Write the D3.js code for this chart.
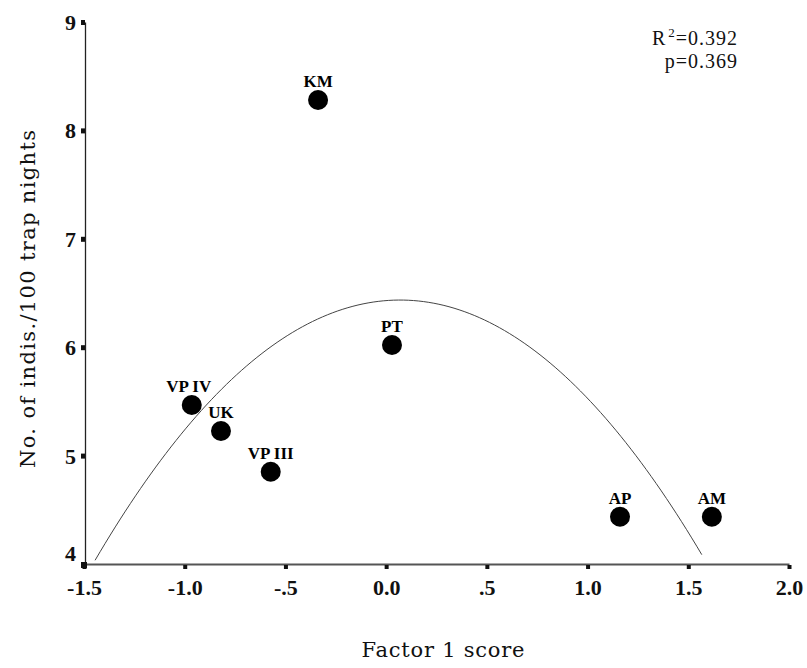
<!DOCTYPE html>
<html>
<head>
<meta charset="utf-8">
<script src="https://cdn.jsdelivr.net/npm/d3@7/dist/d3.min.js"></script>
<style>
  html, body { margin: 0; padding: 0; background: #fff; }
  svg { display: block; }
</style>
</head>
<body>
<svg id="chart" width="807" height="668"></svg>
<script>
// Sites: factor 1 score vs. captures per 100 trap nights
const sites    = ["KM", "PT", "VP IV", "UK", "VP III", "AP", "AM"];
const factor1  = [-0.338, 0.029, -0.965, -0.820, -0.573, 1.161, 1.617];
const captures = [8.28, 6.02, 5.467, 5.227, 4.851, 4.436, 4.436];

// Quadratic fit y = a + b x + c x^2 and the x span it is drawn over
const fitCoef  = [6.430, 0.145, -1.047];
const fitRange = [-1.445, 1.567];

const xTicks      = [-1.5, -1.0, -0.5, 0.0, 0.5, 1.0, 1.5, 2.0];
const xTickLabels = ["-1.5", "-1.0", "-.5", "0.0", ".5", "1.0", "1.5", "2.0"];
const yTicks      = [4, 5, 6, 7, 8, 9];
const yTickLabels = ["4", "5", "6", "7", "8", "9"];

const statsLines = ["R", "=0.392", "p=0.369"];

const svg = d3.select("#chart");
const plotLeft = 84, plotRight = 789, plotTop = 22, plotBottom = 564;

const x = d3.scaleLinear().domain([-1.5, 2.0]).range([plotLeft, plotRight]);
const y = d3.scaleLinear().domain([4, 9]).range([plotBottom, plotTop]);

const serif = "'Liberation Serif', 'Times New Roman', serif";
const wideSerif = "'DejaVu Serif', serif";

// Y axis
const yAxis = svg.append("g")
  .attr("transform", `translate(${plotLeft + 1},0)`)
  .call(d3.axisLeft(y).tickValues(yTicks)
    .tickFormat((d, i) => yTickLabels[i]).tickSize(0).tickPadding(9));
yAxis.select(".domain").attr("stroke", "#222").attr("stroke-width", 1.3);
yAxis.selectAll(".tick text")
  .attr("font-family", serif).attr("font-size", 22).attr("font-weight", "bold")
  .attr("fill", "#111")
  .attr("dy", d => d === 4 ? "-0.15em" : "0.34em");
yAxis.selectAll(".tick").append("rect")
  .attr("x", -4).attr("y", -2.5).attr("width", 4).attr("height", 5).attr("fill", "#111");

// X axis
const xAxis = svg.append("g")
  .attr("transform", `translate(0,${plotBottom})`)
  .call(d3.axisBottom(x).tickValues(xTicks)
    .tickFormat((d, i) => xTickLabels[i]).tickSize(0).tickPadding(15));
xAxis.select(".domain").attr("stroke", "#555").attr("stroke-width", 2);
xAxis.selectAll(".tick text")
  .attr("font-family", serif).attr("font-size", 22).attr("font-weight", "bold")
  .attr("fill", "#111");
xAxis.selectAll(".tick").append("rect")
  .attr("x", -2).attr("y", 1).attr("width", 4).attr("height", 4).attr("fill", "#111");
// heavier corner mark at the origin
svg.append("rect")
  .attr("x", x(-1.5) - 3).attr("y", y(4) - 2).attr("width", 6).attr("height", 6)
  .attr("fill", "#111");

// Fitted curve
const fit = v => fitCoef[0] + fitCoef[1] * v + fitCoef[2] * v * v;
const curveX = d3.range(0, 121).map(i => fitRange[0] + (fitRange[1] - fitRange[0]) * i / 120);
svg.append("path")
  .datum(curveX)
  .attr("fill", "none")
  .attr("stroke", "#444")
  .attr("stroke-width", 1)
  .attr("d", d3.line().x(v => x(v)).y(v => y(fit(v))).curve(d3.curveLinear));

// Points
const pts = sites.map((s, i) => ({ s, fx: factor1[i], fy: captures[i] }));
svg.append("g").selectAll("circle").data(pts).join("circle")
  .attr("cx", d => x(d.fx)).attr("cy", d => y(d.fy)).attr("r", 10)
  .attr("fill", "#000");
svg.append("g").selectAll("text").data(pts).join("text")
  .attr("x", d => x(d.fx) + (d.s === "VP IV" ? -3 : 0))
  .attr("y", d => y(d.fy) - 13)
  .attr("text-anchor", "middle")
  .attr("font-family", serif).attr("font-size", 17).attr("font-weight", "bold")
  .attr("fill", "#000")
  .text(d => d.s);

// Statistics
const st = svg.append("text")
  .attr("x", 738).attr("y", 45).attr("text-anchor", "end")
  .attr("font-family", serif).attr("font-size", 20).attr("letter-spacing", 1)
  .attr("fill", "#111");
st.append("tspan").text(statsLines[0]);
st.append("tspan").attr("dy", -8).attr("font-size", 13).attr("dx", 2).text("2");
st.append("tspan").attr("dy", 8).text(statsLines[1]);
svg.append("text")
  .attr("x", 738).attr("y", 68).attr("text-anchor", "end")
  .attr("font-family", serif).attr("font-size", 20).attr("letter-spacing", 1)
  .attr("fill", "#111")
  .text(statsLines[2]);

// Axis titles
svg.append("text")
  .attr("x", 443).attr("y", 657).attr("text-anchor", "middle")
  .attr("font-family", wideSerif).attr("font-size", 21)
  .attr("textLength", 163).attr("lengthAdjust", "spacing")
  .attr("fill", "#111")
  .text("Factor 1 score");
svg.append("text")
  .attr("transform", "translate(35,299) rotate(-90)")
  .attr("text-anchor", "middle")
  .attr("font-family", wideSerif).attr("font-size", 21)
  .attr("textLength", 338).attr("lengthAdjust", "spacing")
  .attr("fill", "#111")
  .text("No. of indis./100 trap nights");
</script>
</body>
</html>
